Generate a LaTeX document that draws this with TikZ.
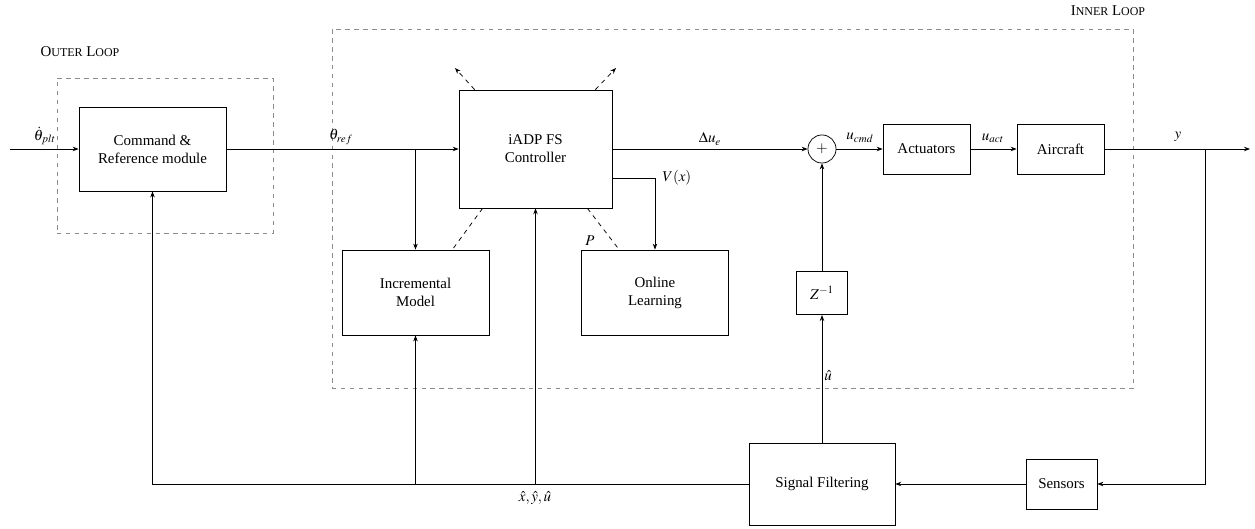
\documentclass[tikz,border=0pt]{standalone}
\usepackage{mathptmx}
\usepackage{fontspec}
\setmainfont{Liberation Serif}
\usetikzlibrary{arrows.meta,calc}

\begin{document}
\begin{tikzpicture}[
  x=0.67pt, y=-0.67pt,
  % === Node styles ===
  block/.style={
    draw, align=center, fill=white,
    inner sep=2pt, line width=0.5pt
  },
  sumnode/.style={
    draw, circle, minimum size=18.8pt,
    inner sep=0pt, line width=0.5pt
  },
  loopframe/.style={
    draw=black!45, dashed, line width=0.6pt
  },
  % === Arrow styles ===
  arr/.style={-{Stealth[length=4pt,width=3pt]}, line width=0.5pt},
  dasharr/.style={-{Stealth[length=4pt,width=3pt]}, dashed, line width=0.5pt},
  dashline/.style={dashed, line width=0.5pt},
  % === Label styles ===
  sig/.style={inner sep=1pt},
  looplbl/.style={inner sep=1pt},
]
\useasboundingbox (0,0) rectangle (1255,529);

% =============================================
% Loop frames
% =============================================
\node[loopframe, minimum width=144.7pt, minimum height=103.9pt] (outer) at (165,155.5) {};
\node[looplbl] (outerlbl) at (80,52) {O{\footnotesize UTER} L{\footnotesize OOP}};
\node[loopframe, minimum width=536.7pt, minimum height=240.5pt] (inner) at (732.5,208.5) {};
\node[looplbl] (innerlbl) at (1108,11) {I{\footnotesize NNER} L{\footnotesize OOP}};

% =============================================
% Blocks
% =============================================
\node[block, minimum width=98.5pt, minimum height=56.3pt] (cmd) at (152.5,149) {Command \&\\Reference module};
\node[block, minimum width=102.5pt, minimum height=79pt] (ctrl) at (535.5,149) {iADP FS\\Controller};
\node[block, minimum width=98.5pt, minimum height=57pt] (incr) at (415.5,292.5) {Incremental\\Model};
\node[block, minimum width=98.5pt, minimum height=57pt] (olearn) at (655,292.5) {Online\\Learning};
\node[sumnode] (sum) at (822,149) {$+$};
\node[block, minimum width=58.3pt, minimum height=33.5pt] (act) at (926.5,149) {Actuators};
\node[block, minimum width=58.3pt, minimum height=33.5pt] (acft) at (1060.5,149) {Aircraft};
\node[block, minimum width=34pt, minimum height=29pt] (zinv) at (822,293) {$Z^{-1}$};
\node[block, minimum width=97.8pt, minimum height=55pt] (filt) at (822,484) {Signal Filtering};
\node[block, minimum width=47.6pt, minimum height=33.5pt] (sens) at (1061.5,484) {Sensors};

% free ends
\coordinate (src) at (10,149);
\coordinate (sink) at (1250,149);
\coordinate (tl) at (455,68);
\coordinate (tr) at (616,68);

% =============================================
% Forward path
% =============================================
\draw[arr] (src) -- (cmd.west);
\draw[arr] (cmd.east) -- (ctrl.west);
\draw[arr] (incr.north |- cmd.east) -- (incr.north);
\draw[arr] (ctrl.east) -- (sum.west);
\draw[arr] (ctrl.east |- 0,178) -| (olearn.north);
\draw[arr] (sum.east) -- (act.west);
\draw[arr] (act.east) -- (acft.west);
\draw[arr] (acft.east) -- (sink);

% signal labels
\node[sig] (thetadot) at (45,136) {$\dot{\theta}_{plt}$};
\node[sig] (thetaref) at (341,137) {$\theta_{ref}$};
\node[sig] (du) at (710,139) {$\Delta u_e$};
\node[sig] (vx) at (677,178) {$V(x)$};
\node[sig] (plbl) at (590,241) {$P$};
\node[sig] (ucmd) at (860,138) {$u_{cmd}$};
\node[sig] (uact) at (993,138) {$u_{act}$};
\node[sig] (ylbl) at (1178,137) {$y$};

% =============================================
% Dashed links around the controller
% =============================================
\draw[dasharr] ($(ctrl.north west)+(16,0)$) -- (tl);
\draw[dasharr] ($(ctrl.north east)+(-17,0)$) -- (tr);
\draw[dashline] ($(ctrl.south west)+(24,0)$) -- ($(incr.north east)+(-37,0)$);
\draw[dashline] ($(ctrl.south east)+(-25,0)$) -- ($(olearn.north west)+(38,0)$);

% =============================================
% Feedback path
% =============================================
\draw[arr] (acft.east -| 1205,0) |- (sens.east);
\draw[arr] (sens.west) -- (filt.east);
\draw[arr] (filt.north) -- (zinv.south);
\draw[arr] (zinv.north) -- (sum.south);
\draw[arr] (filt.west) -| (cmd.south);
\draw[arr] (incr.south |- filt.west) -- (incr.south);
\draw[arr] (ctrl.south |- filt.west) -- (ctrl.south);

\node[sig] (uhat) at (828,376) {$\hat{u}$};
\node[sig] (states) at (535,498) {$\hat{x},\hat{y},\hat{u}$};

\end{tikzpicture}
\end{document}
